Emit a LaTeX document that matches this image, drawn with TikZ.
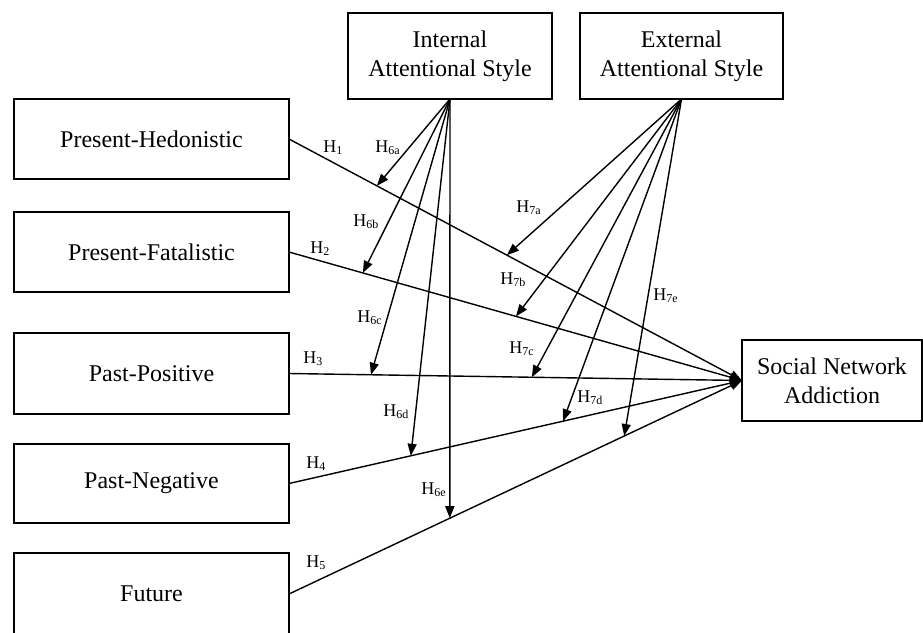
\documentclass[tikz,border=0pt]{standalone}
\usepackage{fontspec}
\setmainfont{Liberation Serif}
\usetikzlibrary{arrows.meta}
\begin{document}
\begin{tikzpicture}[x=0.5pt,y=-0.5pt,
  box/.style={draw, line width=0.9pt, inner sep=0pt, outer sep=0pt, align=center, font=\fontsize{12}{14.5}\selectfont},
  conn/.style={line width=0.7pt, -{Triangle[length=6pt,width=4.5pt]}},
  hlab/.style={anchor=base west, inner sep=0pt, font=\fontsize{9}{11}\selectfont}]
\useasboundingbox (0,0) rectangle (923,633);
\clip (0,0) rectangle (923,633);
% boxes
\node[box, minimum width=102pt, minimum height=43pt] (ias) at (450,56) {Internal\\Attentional Style};
\node[box, minimum width=101.5pt, minimum height=43pt] (eas) at (681.5,56) {External\\Attentional Style};
\node[box, minimum width=137.5pt, minimum height=40pt] (ph) at (151.5,139) {Present-Hedonistic};
\node[box, minimum width=137.5pt, minimum height=40pt] (pf) at (151.5,252) {Present-Fatalistic};
\node[box, minimum width=137.5pt, minimum height=40.5pt] (pp) at (151.5,373.5) {Past-Positive};
\node[box, minimum width=137.5pt, minimum height=39.5pt] (pn) at (151.5,483.5) {Past-Negative};
\node[box, minimum width=137.5pt, minimum height=41pt] (fu) at (151.5,594) {Future};
\node[box, minimum width=90pt, minimum height=40.5pt] (sna) at (832,380.5) {Social Network\\Addiction};
% points on the main paths
\path (ph.east) -- (sna.west) coordinate[pos=0.194] (a1) coordinate[pos=0.481] (b1);
\path (pf.east) -- (sna.west) coordinate[pos=0.163] (a2) coordinate[pos=0.501] (b2);
\path (pp.east) -- (sna.west) coordinate[pos=0.181] (a3) coordinate[pos=0.536] (b3);
\path (pn.east) -- (sna.west) coordinate[pos=0.269] (a4) coordinate[pos=0.605] (b4);
\path (fu.east) -- (sna.west) coordinate[pos=0.355] (a5) coordinate[pos=0.740] (b5);
% main paths
\draw[conn] (ph.east) -- (sna.west);
\draw[conn] (pf.east) -- (sna.west);
\draw[conn] (pp.east) -- (sna.west);
\draw[conn] (pn.east) -- (sna.west);
\draw[conn] (fu.east) -- (sna.west);
% moderation arrows
\draw[conn] (ias.south) -- (a1);
\draw[conn] (ias.south) -- (a2);
\draw[conn] (ias.south) -- (a3);
\draw[conn] (ias.south) -- (a4);
\draw[conn] (ias.south) -- (a5);
\draw[conn] (eas.south) -- (b1);
\draw[conn] (eas.south) -- (b2);
\draw[conn] (eas.south) -- (b3);
\draw[conn] (eas.south) -- (b4);
\draw[conn] (eas.south) -- (b5);
% labels
\node[hlab] (l1) at (323,152) {H\textsubscript{1}};
\node[hlab] (l2) at (310,253) {H\textsubscript{2}};
\node[hlab] (l3) at (303,363) {H\textsubscript{3}};
\node[hlab] (l4) at (306,468) {H\textsubscript{4}};
\node[hlab] (l5) at (306,567) {H\textsubscript{5}};
\node[hlab] (l6a) at (375,152) {H\textsubscript{6a}};
\node[hlab] (l6b) at (353,226) {H\textsubscript{6b}};
\node[hlab] (l6c) at (357,322) {H\textsubscript{6c}};
\node[hlab] (l6d) at (383,416) {H\textsubscript{6d}};
\node[hlab] (l6e) at (421,494) {H\textsubscript{6e}};
\node[hlab] (l7a) at (516,212) {H\textsubscript{7a}};
\node[hlab] (l7b) at (500,284) {H\textsubscript{7b}};
\node[hlab] (l7c) at (509,353) {H\textsubscript{7c}};
\node[hlab] (l7d) at (577,402) {H\textsubscript{7d}};
\node[hlab] (l7e) at (653,300) {H\textsubscript{7e}};
\end{tikzpicture}
\end{document}
